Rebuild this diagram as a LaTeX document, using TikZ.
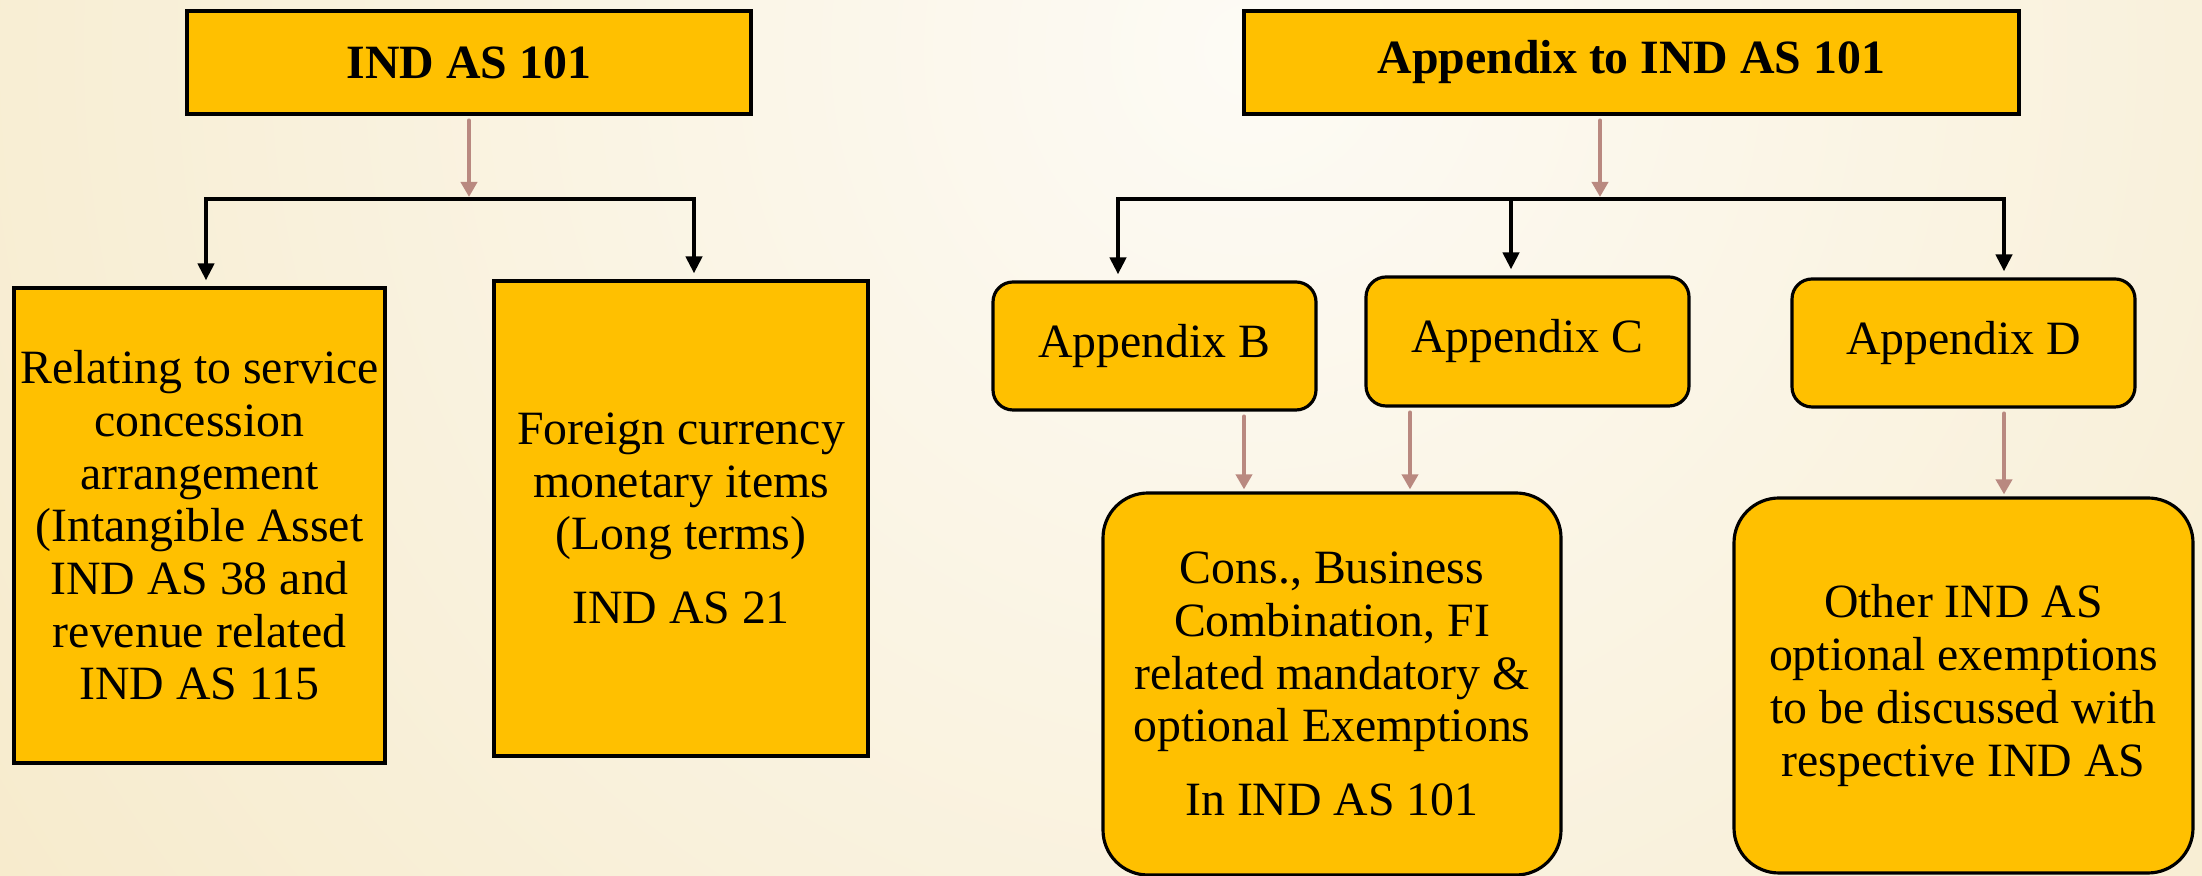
\documentclass[tikz,border=0pt]{standalone}
\usepackage{fontspec}
\setmainfont{Liberation Serif}
\usetikzlibrary{positioning, arrows.meta}
\definecolor{boxfill}{RGB}{255,192,0}
\definecolor{linkbrown}{RGB}{185,137,128}
\definecolor{bgin}{RGB}{253,251,245}
\definecolor{bgout}{RGB}{241,221,170}

\begin{document}
\begin{tikzpicture}[
    % plain yellow boxes, rounded ones for the appendix side
    box/.style={rectangle, draw, line width=0.9pt, fill=boxfill, align=center, inner sep=1pt, font=\fontsize{13.6}{15}\selectfont},
    head/.style={box, font=\fontsize{13.6}{15}\selectfont\bfseries},
    rbox/.style={box, rounded corners=0.2cm},
    bigbox/.style={box, rounded corners=0.45cm},
    arrow/.style={-{Triangle[length=0.15cm, width=0.16cm]}, line width=1.2pt, line cap=round, color=linkbrown, shorten <=0.05cm, shorten >=0.02cm},
    drop/.style={-{Triangle[length=0.17cm, width=0.16cm]}, line width=1.2pt, shorten >=0.06cm},
    fork/.style={drop, {Triangle[length=0.17cm, width=0.16cm]}-{Triangle[length=0.17cm, width=0.16cm]}, shorten <=0.06cm}
]
    % --- Background ---
    \useasboundingbox (0,0) rectangle (22.02,-8.76);
    \begin{scope}
        \clip (0,0) rectangle (22.02,-8.76);
        \shade[inner color=bgin, outer color=bgout] (12.5,-0.5) circle (28);
    \end{scope}

    % --- Top boxes ---
    \node[head, minimum width=5.64cm, minimum height=1.03cm] (ind) at (4.69,-0.625) {IND AS 101};
    \node[head, minimum width=7.75cm, minimum height=1.03cm] (app) at (16.315,-0.625) {Appendix to IND AS 101};

    % --- Left side ---
    \node[box, minimum width=3.71cm, minimum height=4.75cm] (svc) at (1.995,-5.255)
        {Relating to service\\concession\\arrangement\\(Intangible Asset\\IND AS 38 and\\revenue related\\IND AS 115};
    \node[box, minimum width=3.74cm, minimum height=4.75cm] (fx) at (6.81,-5.185)
        {Foreign currency\\monetary items\\(Long terms)\\[6pt]IND AS 21};

    % --- Appendix side ---
    \node[rbox, minimum width=3.23cm, minimum height=1.28cm] (appB) at (11.545,-3.46) {Appendix B};
    \node[rbox, minimum width=3.23cm, minimum height=1.29cm] (appC) at (15.275,-3.415) {Appendix C};
    \node[rbox, minimum width=3.43cm, minimum height=1.28cm] (appD) at (19.635,-3.43) {Appendix D};
    \node[bigbox, minimum width=4.58cm, minimum height=3.82cm] (cons) at (13.32,-6.84)
        {Cons., Business\\Combination, FI\\related mandatory \&\\optional Exemptions\\[6pt]In IND AS 101};
    \node[bigbox, minimum width=4.59cm, minimum height=3.75cm] (other) at (19.635,-6.855)
        {Other IND AS\\optional exemptions\\to be discussed with\\respective IND AS};

    % --- Fork points ---
    \coordinate (lfork) at (2.06,-1.99);
    \coordinate (rfork) at (6.94,-1.99);
    \coordinate (fB) at (11.18,-1.99);
    \coordinate (fC) at (15.11,-1.99);
    \coordinate (fD) at (20.04,-1.99);

    % --- Connectors ---
    \draw[arrow] (ind.south) -- (ind.south |- lfork);
    \draw[fork] (lfork |- svc.north) -- (lfork) -- (rfork) -- (rfork |- fx.north);

    \draw[arrow] ([xshift=-0.315cm]app.south) -- ([xshift=-0.315cm]app.south |- fB);
    \draw[fork] (fB |- appB.north) -- (fB) -- (fD) -- (fD |- appD.north);
    \draw[drop] (fC) -- (fC |- appC.north);

    \draw[arrow] ([xshift=0.895cm]appB.south) -- ([xshift=0.895cm]appB.south |- cons.north);
    \draw[arrow] ([xshift=-1.175cm]appC.south) -- ([xshift=-1.175cm]appC.south |- cons.north);
    \draw[arrow] ([xshift=0.405cm]appD.south) -- ([xshift=0.405cm]appD.south |- other.north);
\end{tikzpicture}
\end{document}
